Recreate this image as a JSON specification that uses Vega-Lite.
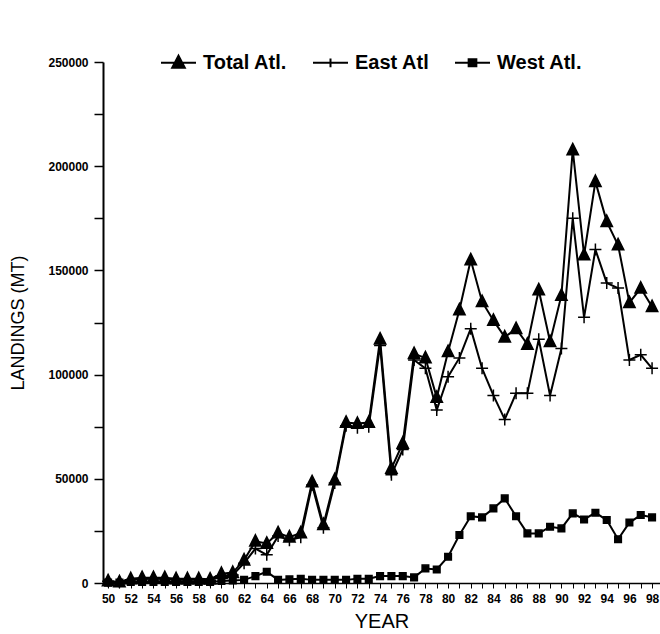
{
  "$schema": "https://vega.github.io/schema/vega-lite/v6.json",
  "width": 557,
  "height": 521,
  "autosize": {"type": "none"},
  "padding": {"left": 103, "top": 62, "right": 0, "bottom": 51},
  "background": "white",
  "config": {"view": {"stroke": null}, "font": "Liberation Sans"},
  "datasets": {
    "landings": [
      {"year":1950,"series":"Total Atl.","value":1000},{"year":1951,"series":"Total Atl.","value":500},{"year":1952,"series":"Total Atl.","value":2000},{"year":1953,"series":"Total Atl.","value":2500},{"year":1954,"series":"Total Atl.","value":2500},{"year":1955,"series":"Total Atl.","value":2500},{"year":1956,"series":"Total Atl.","value":2000},{"year":1957,"series":"Total Atl.","value":2000},{"year":1958,"series":"Total Atl.","value":2000},{"year":1959,"series":"Total Atl.","value":1800},
      {"year":1960,"series":"Total Atl.","value":4500},{"year":1961,"series":"Total Atl.","value":5000},{"year":1962,"series":"Total Atl.","value":11000},{"year":1963,"series":"Total Atl.","value":20000},{"year":1964,"series":"Total Atl.","value":19000},{"year":1965,"series":"Total Atl.","value":24000},{"year":1966,"series":"Total Atl.","value":22000},{"year":1967,"series":"Total Atl.","value":24000},{"year":1968,"series":"Total Atl.","value":48500},{"year":1969,"series":"Total Atl.","value":28000},
      {"year":1970,"series":"Total Atl.","value":49500},{"year":1971,"series":"Total Atl.","value":77000},{"year":1972,"series":"Total Atl.","value":76500},{"year":1973,"series":"Total Atl.","value":77000},{"year":1974,"series":"Total Atl.","value":117000},{"year":1975,"series":"Total Atl.","value":55000},{"year":1976,"series":"Total Atl.","value":67000},{"year":1977,"series":"Total Atl.","value":110000},{"year":1978,"series":"Total Atl.","value":108000},{"year":1979,"series":"Total Atl.","value":89000},
      {"year":1980,"series":"Total Atl.","value":111000},{"year":1981,"series":"Total Atl.","value":131000},{"year":1982,"series":"Total Atl.","value":155000},{"year":1983,"series":"Total Atl.","value":135000},{"year":1984,"series":"Total Atl.","value":126000},{"year":1985,"series":"Total Atl.","value":118000},{"year":1986,"series":"Total Atl.","value":122000},{"year":1987,"series":"Total Atl.","value":114500},{"year":1988,"series":"Total Atl.","value":140600},{"year":1989,"series":"Total Atl.","value":115800},
      {"year":1990,"series":"Total Atl.","value":138000},{"year":1991,"series":"Total Atl.","value":207800},{"year":1992,"series":"Total Atl.","value":157400},{"year":1993,"series":"Total Atl.","value":192600},{"year":1994,"series":"Total Atl.","value":173400},{"year":1995,"series":"Total Atl.","value":162200},{"year":1996,"series":"Total Atl.","value":134500},{"year":1997,"series":"Total Atl.","value":141400},{"year":1998,"series":"Total Atl.","value":132600},

      {"year":1950,"series":"East Atl","value":800},{"year":1951,"series":"East Atl","value":300},{"year":1952,"series":"East Atl","value":1500},{"year":1953,"series":"East Atl","value":2000},{"year":1954,"series":"East Atl","value":2000},{"year":1955,"series":"East Atl","value":2000},{"year":1956,"series":"East Atl","value":1500},{"year":1957,"series":"East Atl","value":1500},{"year":1958,"series":"East Atl","value":1500},{"year":1959,"series":"East Atl","value":1300},
      {"year":1960,"series":"East Atl","value":3500},{"year":1961,"series":"East Atl","value":3800},{"year":1962,"series":"East Atl","value":9500},{"year":1963,"series":"East Atl","value":16500},{"year":1964,"series":"East Atl","value":13500},{"year":1965,"series":"East Atl","value":22500},{"year":1966,"series":"East Atl","value":20500},{"year":1967,"series":"East Atl","value":22000},{"year":1968,"series":"East Atl","value":47000},{"year":1969,"series":"East Atl","value":26500},
      {"year":1970,"series":"East Atl","value":48000},{"year":1971,"series":"East Atl","value":75500},{"year":1972,"series":"East Atl","value":74500},{"year":1973,"series":"East Atl","value":75000},{"year":1974,"series":"East Atl","value":114000},{"year":1975,"series":"East Atl","value":52000},{"year":1976,"series":"East Atl","value":64000},{"year":1977,"series":"East Atl","value":107000},{"year":1978,"series":"East Atl","value":103000},{"year":1979,"series":"East Atl","value":83000},
      {"year":1980,"series":"East Atl","value":99000},{"year":1981,"series":"East Atl","value":108000},{"year":1982,"series":"East Atl","value":122000},{"year":1983,"series":"East Atl","value":103000},{"year":1984,"series":"East Atl","value":90000},{"year":1985,"series":"East Atl","value":78500},{"year":1986,"series":"East Atl","value":91000},{"year":1987,"series":"East Atl","value":91000},{"year":1988,"series":"East Atl","value":117000},{"year":1989,"series":"East Atl","value":90000},
      {"year":1990,"series":"East Atl","value":112500},{"year":1991,"series":"East Atl","value":175000},{"year":1992,"series":"East Atl","value":127500},{"year":1993,"series":"East Atl","value":160000},{"year":1994,"series":"East Atl","value":144000},{"year":1995,"series":"East Atl","value":141500},{"year":1996,"series":"East Atl","value":107000},{"year":1997,"series":"East Atl","value":109500},{"year":1998,"series":"East Atl","value":103000},

      {"year":1950,"series":"West Atl.","value":200},{"year":1951,"series":"West Atl.","value":200},{"year":1952,"series":"West Atl.","value":500},{"year":1953,"series":"West Atl.","value":500},{"year":1954,"series":"West Atl.","value":500},{"year":1955,"series":"West Atl.","value":500},{"year":1956,"series":"West Atl.","value":500},{"year":1957,"series":"West Atl.","value":500},{"year":1958,"series":"West Atl.","value":500},{"year":1959,"series":"West Atl.","value":500},
      {"year":1960,"series":"West Atl.","value":1000},{"year":1961,"series":"West Atl.","value":1200},{"year":1962,"series":"West Atl.","value":1500},{"year":1963,"series":"West Atl.","value":3300},{"year":1964,"series":"West Atl.","value":5400},{"year":1965,"series":"West Atl.","value":1500},{"year":1966,"series":"West Atl.","value":1800},{"year":1967,"series":"West Atl.","value":2000},{"year":1968,"series":"West Atl.","value":1500},{"year":1969,"series":"West Atl.","value":1500},
      {"year":1970,"series":"West Atl.","value":1500},{"year":1971,"series":"West Atl.","value":1500},{"year":1972,"series":"West Atl.","value":2000},{"year":1973,"series":"West Atl.","value":2000},{"year":1974,"series":"West Atl.","value":3300},{"year":1975,"series":"West Atl.","value":3300},{"year":1976,"series":"West Atl.","value":3300},{"year":1977,"series":"West Atl.","value":2700},{"year":1978,"series":"West Atl.","value":7000},{"year":1979,"series":"West Atl.","value":6500},
      {"year":1980,"series":"West Atl.","value":12600},{"year":1981,"series":"West Atl.","value":23000},{"year":1982,"series":"West Atl.","value":32000},{"year":1983,"series":"West Atl.","value":31500},{"year":1984,"series":"West Atl.","value":35800},{"year":1985,"series":"West Atl.","value":40600},{"year":1986,"series":"West Atl.","value":32000},{"year":1987,"series":"West Atl.","value":23800},{"year":1988,"series":"West Atl.","value":23800},{"year":1989,"series":"West Atl.","value":27000},
      {"year":1990,"series":"West Atl.","value":26200},{"year":1991,"series":"West Atl.","value":33400},{"year":1992,"series":"West Atl.","value":30500},{"year":1993,"series":"West Atl.","value":33700},{"year":1994,"series":"West Atl.","value":30200},{"year":1995,"series":"West Atl.","value":21000},{"year":1996,"series":"West Atl.","value":29000},{"year":1997,"series":"West Atl.","value":32600},{"year":1998,"series":"West Atl.","value":31500}
    ]
  },
  "data": {"name": "landings"},
  "encoding": {
    "x": {
      "field": "year", "type": "quantitative",
      "scale": {"domain": [1949.55, 1998.7], "nice": false, "zero": false},
      "axis": {
        "values": [1950,1951,1952,1953,1954,1955,1956,1957,1958,1959,1960,1961,1962,1963,1964,1965,1966,1967,1968,1969,1970,1971,1972,1973,1974,1975,1976,1977,1978,1979,1980,1981,1982,1983,1984,1985,1986,1987,1988,1989,1990,1991,1992,1993,1994,1995,1996,1997,1998],
        "labelExpr": "datum.value % 2 == 0 ? format(datum.value % 100, '02d') : ''",
        "labelOverlap": false,
        "labelFontSize": 12, "labelFontWeight": "bold", "labelColor": "black",
        "labelPadding": 5, "labelFlush": false,
        "tickSize": 5, "tickColor": "black", "tickWidth": 1,
        "domainColor": "black", "domainWidth": 1.5,
        "grid": false,
        "title": "YEAR", "titleFontSize": 20, "titleFontWeight": "normal", "titleColor": "black", "titlePadding": 7
      }
    },
    "y": {
      "field": "value", "type": "quantitative",
      "scale": {"domain": [0, 250000], "nice": false},
      "axis": {
        "values": [0,25000,50000,75000,100000,125000,150000,175000,200000,225000,250000],
        "labelExpr": "datum.value % 50000 == 0 ? format(datum.value, 'd') : ''",
        "labelOverlap": false,
        "labelFontSize": 12, "labelFontWeight": "bold", "labelColor": "black",
        "labelPadding": 6,
        "tickSize": 9, "tickColor": "black", "tickWidth": 1.5,
        "domainColor": "black", "domainWidth": 2,
        "grid": false,
        "title": "LANDINGS (MT)", "titleFontSize": 18, "titleFontWeight": "normal", "titleColor": "black", "titlePadding": 20
      }
    }
  },
  "layer": [
    {
      "mark": {"type": "line", "strokeWidth": 2},
      "encoding": {
        "color": {
          "field": "series", "type": "nominal",
          "scale": {"domain": ["Total Atl.", "East Atl", "West Atl."], "range": ["black", "black", "black"]},
          "legend": {
            "title": null,
            "orient": "none",
            "legendX": 57,
            "legendY": -18,
            "direction": "horizontal",
            "padding": 0,
            "columnPadding": 21,
            "symbolSize": 1225,
            "symbolStrokeWidth": 2,
            "labelOffset": 6,
            "labelFontSize": 20,
            "labelFontWeight": "bold",
            "labelColor": "black",
            "labelLimit": 0,
            "encode": {
              "symbols": {
                "update": {
                  "shape": {"signal": "datum.value == 'Total Atl.' ? 'M-1,0H1M0,-0.4L0.36,0.28L-0.36,0.28Z' : datum.value == 'East Atl' ? 'M-1,0H1M0,-0.25V0.25' : 'M-1,0H1M-0.22,-0.2H0.22V0.2H-0.22Z'"},
                  "fill": {"value": "black"},
                  "stroke": {"value": "black"},
                  "strokeWidth": {"value": 2}
                }
              }
            }
          }
        }
      }
    },
    {
      "transform": [{"filter": "datum.series == 'Total Atl.'"}],
      "mark": {"type": "point", "shape": "M0,-1.1L0.95,0.8L-0.95,0.8Z", "filled": true, "fill": "black", "stroke": "black", "strokeWidth": 1.5, "opacity": 1, "size": 144}
    },
    {
      "transform": [{"filter": "datum.series == 'East Atl'"}],
      "mark": {"type": "point", "shape": "M-1,0H1M0,-1V1", "filled": true, "fill": "black", "stroke": "black", "strokeWidth": 1.5, "opacity": 1, "size": 144}
    },
    {
      "transform": [{"filter": "datum.series == 'West Atl.'"}],
      "mark": {"type": "point", "shape": "M-0.55,-0.55H0.55V0.55H-0.55Z", "filled": true, "fill": "black", "stroke": "black", "strokeWidth": 1.5, "opacity": 1, "size": 144}
    }
  ]
}
